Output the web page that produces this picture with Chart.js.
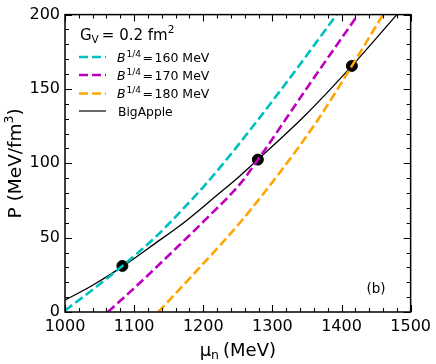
<!DOCTYPE html>
<html>
<head>
<meta charset="utf-8">
<script src="https://cdn.jsdelivr.net/npm/chart.js@4.4.0/dist/chart.umd.min.js"></script>
<style>
  html, body { margin: 0; padding: 0; background: #fff; }
  #wrap { width: 436px; height: 364px; }
</style>
</head>
<body>
<div id="wrap"><canvas id="chart"></canvas></div>
<script>
const FONT = "'DejaVu Sans', sans-serif";

// mu_n (MeV) against P (MeV/fm^3)
const b160Mu = [1000, 1040, 1083, 1130, 1166, 1200, 1238, 1315, 1393];
const b160P  = [1, 15, 31, 50, 67, 84, 105, 151, 200];

const b170Mu = [1062, 1100, 1161, 1202, 1253, 1280, 1349, 1424];
const b170P  = [0, 16, 43, 61.6, 86, 103, 150, 200];

const b180Mu = [1135, 1195, 1253, 1311, 1364, 1415, 1460];
const b180P  = [0, 30, 60, 94, 128, 165.5, 200];

const bigAppleMu = [1000, 1040, 1083, 1130, 1176, 1221, 1253, 1279, 1349, 1415, 1480];
const bigAppleP  = [8, 18, 30.5, 46, 61.6, 79, 91.5, 102.5, 133, 165.5, 200];

// crossing points marked with dots
const crossMu = [1083, 1279, 1415];
const crossP  = [31, 102.5, 165.5];

const xTicks = [1000, 1100, 1200, 1300, 1400, 1500];
const yTicks = [0, 50, 100, 150, 200];

const legendLabels = ['160', '170', '180'];
const colors = ['#00BFBF', '#BF00BF', '#FFA500'];

const pts = (xs, ys) => xs.map((v, i) => ({ x: v, y: ys[i] }));

function dashed(data, color) {
    return {
        data,
        borderColor: color,
        borderWidth: 2.6,
        borderDash: [9, 4],
        showLine: true,
        pointRadius: 0,
        fill: false,
        cubicInterpolationMode: 'monotone'
    };
}

// draw a run of text pieces: {t, size, dy, italic}
function drawRuns(ctx, x, y, runs) {
    runs.forEach(r => {
        ctx.font = (r.italic ? 'italic ' : '') + r.size + 'px ' + FONT;
        ctx.fillText(r.t, x, y + (r.dy || 0));
        x += ctx.measureText(r.t).width + (r.gap || 0);
    });
    return x;
}

// frame, inward ticks on all four sides, legend and annotations
const decorations = {
    id: 'decorations',
    afterDraw(chart) {
        const { ctx, chartArea: a, scales: { x, y } } = chart;
        ctx.save();
        ctx.strokeStyle = '#000';
        ctx.lineWidth = 1.1;
        ctx.beginPath();
        for (let v = 1000; v <= 1500; v += 20) {
            const px = Math.round(x.getPixelForValue(v)) + 0.5;
            const len = v % 100 === 0 ? 7 : 4;
            ctx.moveTo(px, a.bottom); ctx.lineTo(px, a.bottom - len);
            ctx.moveTo(px, a.top); ctx.lineTo(px, a.top + len);
        }
        for (let v = 0; v <= 200; v += 10) {
            const py = Math.round(y.getPixelForValue(v)) + 0.5;
            const len = v % 50 === 0 ? 7 : 4;
            ctx.moveTo(a.left, py); ctx.lineTo(a.left + len, py);
            ctx.moveTo(a.right, py); ctx.lineTo(a.right - len, py);
        }
        ctx.stroke();
        ctx.lineWidth = 1.5;
        ctx.strokeRect(a.left, a.top, a.right - a.left, a.bottom - a.top);

        // legend
        ctx.fillStyle = '#000';
        ctx.textBaseline = 'alphabetic';
        ctx.textAlign = 'left';
        drawRuns(ctx, 80, 40, [
            { t: 'G', size: 15, gap: 0 },
            { t: 'V', size: 10.5, dy: 3, gap: 3 },
            { t: '= 0.2 fm', size: 15 },
            { t: '2', size: 10.5, dy: -7 }
        ]);
        const rowY = [57, 75, 93.5, 111];
        ctx.lineWidth = 2.6;
        legendLabels.forEach((lab, i) => {
            ctx.strokeStyle = colors[i];
            ctx.setLineDash([9, 4]);
            ctx.beginPath();
            ctx.moveTo(79, rowY[i]); ctx.lineTo(106, rowY[i]);
            ctx.stroke();
            ctx.fillStyle = '#000';
            drawRuns(ctx, 117, rowY[i] + 4.5, [
                { t: 'B', size: 12.5, italic: true, gap: 1 },
                { t: '1/4', size: 9, dy: -5, gap: 1.5 },
                { t: '=', size: 12.5, gap: 1.5 },
                { t: lab + ' MeV', size: 12.5 }
            ]);
        });
        ctx.setLineDash([]);
        ctx.strokeStyle = '#000';
        ctx.lineWidth = 1.2;
        ctx.beginPath();
        ctx.moveTo(79, rowY[3]); ctx.lineTo(106, rowY[3]);
        ctx.stroke();
        drawRuns(ctx, 118, rowY[3] + 4.5, [{ t: 'BigApple', size: 12.3 }]);

        // panel label
        ctx.font = '13.5px ' + FONT;
        ctx.textAlign = 'center';
        ctx.fillText('(b)', 376, 293);

        // axis titles
        ctx.textAlign = 'left';
        const xt = [
            { t: 'μ', size: 18 },
            { t: 'n', size: 12.5, dy: 3, gap: 4 },
            { t: '(MeV)', size: 18 }
        ];
        let w = 0;
        xt.forEach(r => { ctx.font = r.size + 'px ' + FONT; w += ctx.measureText(r.t).width + (r.gap || 0); });
        drawRuns(ctx, (a.left + a.right) / 2 - w / 2, 356, xt);

        ctx.translate(21, (a.top + a.bottom) / 2);
        ctx.rotate(-Math.PI / 2);
        const yt = [
            { t: 'P (MeV/fm', size: 18.5 },
            { t: '3', size: 12.5, dy: -8 },
            { t: ')', size: 18.5 }
        ];
        w = 0;
        yt.forEach(r => { ctx.font = r.size + 'px ' + FONT; w += ctx.measureText(r.t).width; });
        drawRuns(ctx, -w / 2, 0, yt);
        ctx.restore();
    }
};

new Chart(document.getElementById('chart'), {
    type: 'scatter',
    data: {
        datasets: [
            dashed(pts(b160Mu, b160P), colors[0]),
            dashed(pts(b170Mu, b170P), colors[1]),
            dashed(pts(b180Mu, b180P), colors[2]),
            {
                data: pts(bigAppleMu, bigAppleP),
                borderColor: '#000',
                borderWidth: 1.3,
                showLine: true,
                pointRadius: 0,
                fill: false,
                cubicInterpolationMode: 'monotone'
            },
            {
                data: pts(crossMu, crossP),
                backgroundColor: '#000',
                borderColor: '#000',
                pointRadius: 5.5,
                showLine: false
            }
        ]
    },
    options: {
        responsive: true,
        maintainAspectRatio: false,
        animation: false,
        layout: { padding: { left: 0, right: 25, top: 11, bottom: 0 } },
        plugins: {
            legend: { display: false },
            tooltip: { enabled: false }
        },
        scales: {
            x: {
                type: 'linear',
                min: 1000,
                max: 1500,
                afterFit: s => { s.height = 52; },
                afterBuildTicks: s => { s.ticks = xTicks.map(v => ({ value: v })); },
                grid: { display: false, drawTicks: false },
                border: { display: false },
                ticks: {
                    padding: 5, color: '#000', maxRotation: 0,
                    font: { family: FONT, size: 16 },
                    callback: v => String(v)
                }
            },
            y: {
                type: 'linear',
                min: 0,
                max: 200,
                afterFit: s => { s.width = 65; },
                afterBuildTicks: s => { s.ticks = yTicks.map(v => ({ value: v })); },
                grid: { display: false, drawTicks: false },
                border: { display: false },
                ticks: {
                    padding: 5, color: '#000',
                    font: { family: FONT, size: 16 },
                    callback: v => String(v)
                }
            }
        }
    },
    plugins: [decorations]
});
</script>
</body>
</html>
